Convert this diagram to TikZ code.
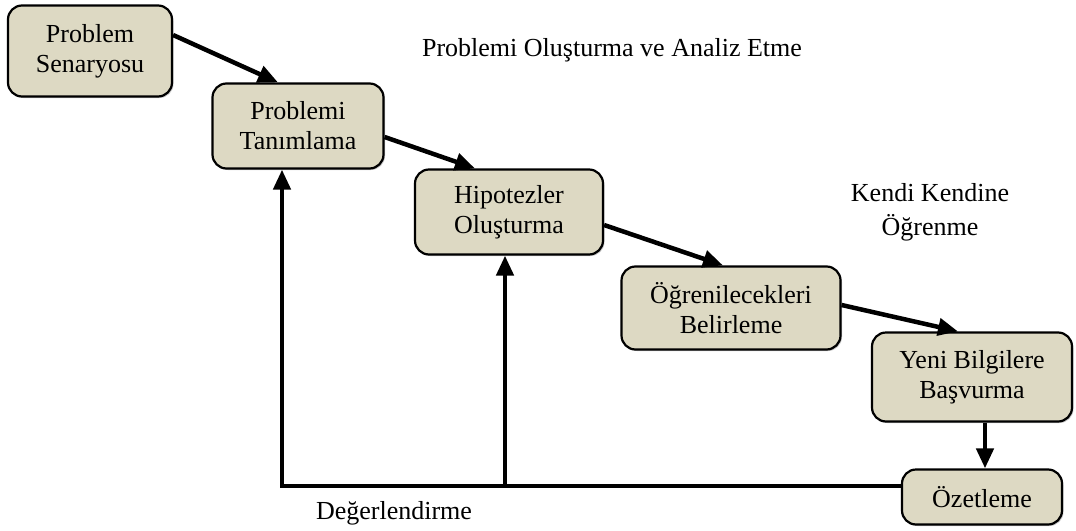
\documentclass[tikz,border=0pt]{standalone}
\usepackage{fontspec}
\setmainfont{Liberation Serif}
\usetikzlibrary{arrows.meta,shadows}
\definecolor{boxfill}{RGB}{221,217,195}
\begin{document}
\begin{tikzpicture}[x=1pt, y=-1pt,
  every node/.style={font=\fontsize{26}{30}\selectfont, align=center},
  stepbox/.style={draw, line width=2.2pt, fill=boxfill, rounded corners=14pt, inner sep=0pt,
    drop shadow={shadow xshift=1.5pt, shadow yshift=-1.5pt, fill=black!35, opacity=0.6}},
  flow/.style={line width=4.5pt, -{Triangle[length=20pt,width=17pt]}}]
  \useasboundingbox (0,0) rectangle (1076,530);
  \node[stepbox, minimum width=164pt, minimum height=91pt] (senaryo) at (90,51) {Problem\\Senaryosu};
  \node[stepbox, minimum width=171pt, minimum height=85pt] (tanim) at (298,126) {Problemi\\Tanımlama};
  \node[stepbox, minimum width=188pt, minimum height=85pt] (hipo) at (509,212) {Hipotezler\\Oluşturma};
  \node[stepbox, minimum width=219pt, minimum height=83pt] (ogren) at (731,308) {Öğrenilecekleri\\Belirleme};
  \node[stepbox, minimum width=200pt, minimum height=89pt] (yeni) at (972,377) {Yeni Bilgilere\\Başvurma};
  \node[stepbox, minimum width=160pt, minimum height=55pt] (ozet) at (982,497) {Özetleme};
  \node (analiz) at (612,50) {Problemi Oluşturma ve Analiz Etme};
  \node[font=\fontsize{26}{34}\selectfont] (kendi) at (930,212) {Kendi Kendine\\Öğrenme};
  \node (deger) at (394,513) {Değerlendirme};
  \coordinate (fb) at (282,486);
  \coordinate (fbmid) at (505,486);
  \draw[flow] ([yshift=16pt]senaryo.east) -- ([xshift=-20pt]tanim.north);
  \draw[flow] ([yshift=-11pt]tanim.east) -- ([xshift=-34pt]hipo.north);
  \draw[flow] ([yshift=-13pt]hipo.east) -- ([xshift=-8pt]ogren.north);
  \draw[flow] ([yshift=3pt]ogren.east) -- ([xshift=-14pt]yeni.north);
  \draw[flow] ([xshift=13pt]yeni.south) -- ([xshift=3pt]ozet.north);
  \draw[flow] ([yshift=11pt]ozet.west) -- (fb) -- (fb |- tanim.south);
  \draw[flow] (fbmid) -- (fbmid |- hipo.south);
\end{tikzpicture}
\end{document}
